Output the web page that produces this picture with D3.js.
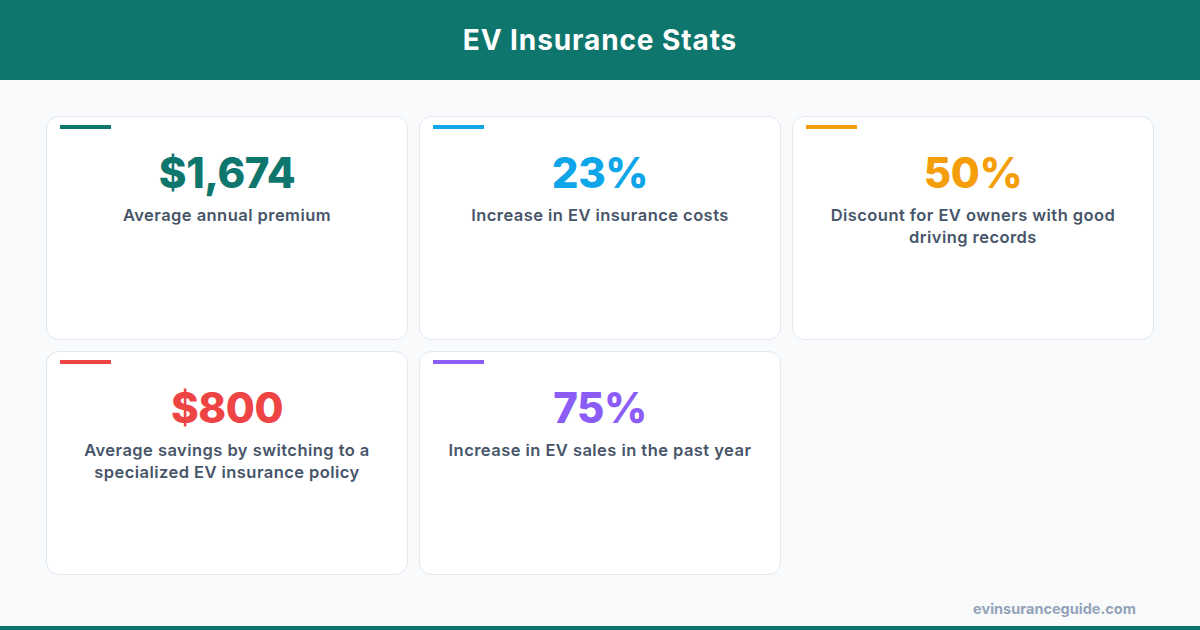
<!DOCTYPE html>
<html lang="en">
<head>
<meta charset="utf-8">
<title>EV Insurance Stats</title>
<script src="https://d3js.org/d3.v7.min.js"></script>
<style>
  html, body { margin: 0; padding: 0; background: #f8fafc; }
  text { font-family: Inter, "Open Sans", sans-serif; }
</style>
</head>
<body>
<div id="chart"></div>
<script>
// stat values, labels (pre-split into lines) and accent colours
const statValues = ["$1,674", "23%", "50%", "$800", "75%"];
const statLabels = [
  ["Average annual premium"],
  ["Increase in EV insurance costs"],
  ["Discount for EV owners with good", "driving records"],
  ["Average savings by switching to a", "specialized EV insurance policy"],
  ["Increase in EV sales in the past year"]
];
const statColors = ["#0f766e", "#0ea5e9", "#f59e0b", "#ef4444", "#8b5cf6"];
const title = "EV Insurance Stats";
const source = "evinsuranceguide.com";

const width = 1200, height = 630;
const svg = d3.select("#chart").append("svg")
  .attr("width", width).attr("height", height);

svg.append("rect").attr("width", width).attr("height", height).attr("fill", "#f8fafc");

// header band
svg.append("rect").attr("width", width).attr("height", 80).attr("fill", "#0f766e");
svg.append("text")
  .attr("x", width / 2).attr("y", 50)
  .attr("text-anchor", "middle")
  .attr("font-size", 28).attr("font-weight", 700)
  .attr("letter-spacing", 0.9)
  .attr("fill", "#ffffff")
  .text(title);

// bottom strip
svg.append("rect").attr("y", 626).attr("width", width).attr("height", 4).attr("fill", "#0f766e");

// grid of cards: 3 columns
const cols = 3;
const xCol = d3.scaleBand().domain(d3.range(cols)).range([46, 1154]).paddingInner(0.0295);
const yRow = d3.scaleBand().domain(d3.range(2)).range([116, 575]).paddingInner(0.047);

const stats = statValues.map((v, i) => ({ value: v, label: statLabels[i], color: statColors[i], i }));

const card = svg.selectAll("g.card")
  .data(stats)
  .join("g")
  .attr("class", "card")
  .attr("transform", d => `translate(${xCol(d.i % cols)},${yRow(Math.floor(d.i / cols))})`);

card.append("rect")
  .attr("x", 0.5).attr("y", 0.5)
  .attr("width", xCol.bandwidth() - 1)
  .attr("height", yRow.bandwidth() - 1)
  .attr("rx", 12)
  .attr("fill", "#ffffff")
  .attr("stroke", "#e2e8f0");

card.append("rect")
  .attr("x", 14).attr("y", 9)
  .attr("width", 51).attr("height", 4)
  .attr("fill", d => d.color);

card.append("text")
  .attr("x", xCol.bandwidth() / 2)
  .attr("y", 72)
  .attr("text-anchor", "middle")
  .attr("font-size", 42).attr("font-weight", 800)
  .attr("letter-spacing", -0.4)
  .attr("fill", d => d.color)
  .text(d => d.value);

card.append("text")
  .attr("text-anchor", "middle")
  .attr("font-size", 16.5).attr("font-weight", 600)
  .attr("letter-spacing", 0.45)
  .attr("fill", "#475569")
  .selectAll("tspan")
  .data(d => d.label)
  .join("tspan")
  .attr("x", xCol.bandwidth() / 2)
  .attr("y", (d, j) => 105 + j * 22)
  .text(d => d);

// source
svg.append("text")
  .attr("x", 1136).attr("y", 614)
  .attr("text-anchor", "end")
  .attr("font-size", 14.5).attr("font-weight", 700)
  .attr("fill", "#94a3b8")
  .text(source);
</script>
</body>
</html>
